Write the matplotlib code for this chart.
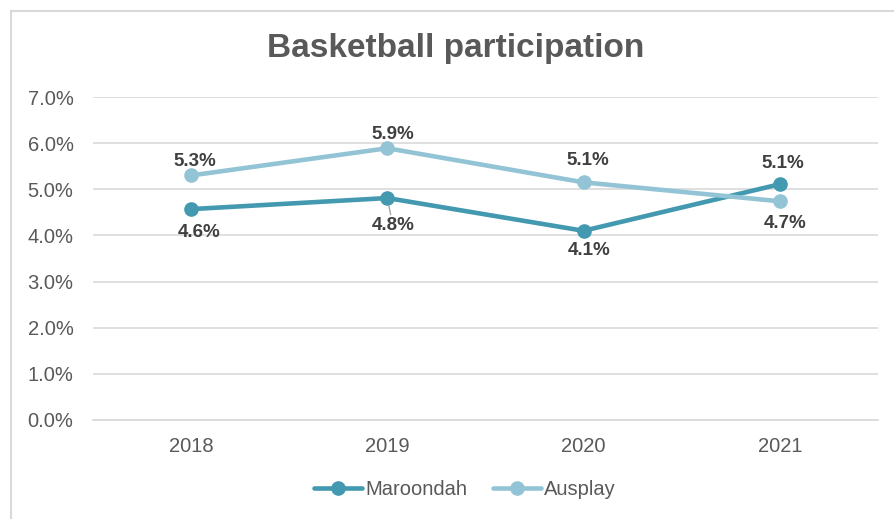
import matplotlib.pyplot as plt
from matplotlib.lines import Line2D
from matplotlib.ticker import FuncFormatter

plt.rcParams['font.family'] = ['Liberation Sans', 'DejaVu Sans']

years = ['2018', '2019', '2020', '2021']
maroondah = [4.57, 4.81, 4.10, 5.11]
ausplay = [5.30, 5.89, 5.15, 4.74]
maroondah_labels = ['4.6%', '4.8%', '4.1%', '5.1%']
ausplay_labels = ['5.3%', '5.9%', '5.1%', '4.7%']

teal = '#4299B0'
light = '#93C4D6'
grey = '#595959'
label_col = '#404040'

fig = plt.figure(figsize=(8.94, 5.19), dpi=100)
ax = fig.add_axes([0.104, 0.191, 0.878, 0.622])

x = list(range(len(years)))
ax.plot(x, maroondah, color=teal, lw=3.3, marker='o', ms=9.5, label='Maroondah',
        solid_capstyle='round', zorder=3)
ax.plot(x, ausplay, color=light, lw=3.3, marker='o', ms=9.5, label='Ausplay',
        solid_capstyle='round', zorder=3)

# data labels (maroondah mostly below, ausplay mostly above)
m_off = [(6, -17), (4, -20), (4, -14), (2, 15)]
a_off = [(3, 10), (4, 10), (3, 16), (4, -16)]
for i in x:
    arrow = None
    if i == 1:
        arrow = dict(arrowstyle='-', color='#A6A6A6', lw=1, shrinkA=0, shrinkB=6)
    ax.annotate(maroondah_labels[i], (i, maroondah[i]), xytext=m_off[i],
                textcoords='offset points', ha='center', va='center',
                fontsize=13.5, fontweight='bold', color=label_col, arrowprops=arrow)
    ax.annotate(ausplay_labels[i], (i, ausplay[i]), xytext=a_off[i],
                textcoords='offset points', ha='center', va='center',
                fontsize=13.5, fontweight='bold', color=label_col)

ax.set_xlim(-0.5, 3.5)
ax.set_ylim(0, 7)
ax.set_yticks(range(0, 8))
ax.yaxis.set_major_formatter(FuncFormatter(lambda v, p: f'{v:.1f}%'))
ax.set_xticks(x)
ax.set_xticklabels(years)
ax.grid(axis='y', color='#D9D9D9', lw=1.2)
ax.set_axisbelow(True)
for s in ['top', 'right', 'left']:
    ax.spines[s].set_visible(False)
ax.spines['bottom'].set_color('#D9D9D9')
ax.spines['bottom'].set_linewidth(1.2)
ax.tick_params(axis='y', length=0, pad=14, labelsize=14.5, labelcolor=grey)
ax.tick_params(axis='x', length=0, pad=12, labelsize=14.5, labelcolor=grey)

fig.text(0.51, 0.907, 'Basketball participation', ha='center', va='center',
         fontsize=24, fontweight='bold', color=grey)

fig.legend(loc='center', bbox_to_anchor=(0.52, 0.056), ncol=2, frameon=False,
           fontsize=14.5, labelcolor=grey, handlelength=2.4, handletextpad=0.15,
           columnspacing=1.3)

# outer chart frame (partly cropped in the reference)
fig.add_artist(Line2D([10.5 / 894, 10.5 / 894], [0, 1 - 10.5 / 519],
                      transform=fig.transFigure, color='#D9D9D9', lw=1.5))
fig.add_artist(Line2D([10.5 / 894, 1], [1 - 10.5 / 519, 1 - 10.5 / 519],
                      transform=fig.transFigure, color='#D9D9D9', lw=1.5))

fig.savefig('out.png', dpi=100)
